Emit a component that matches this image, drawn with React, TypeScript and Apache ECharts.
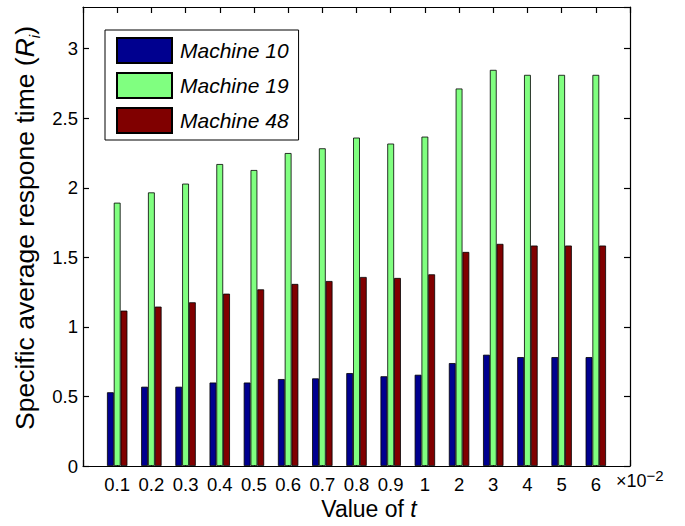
import React, { useEffect, useRef } from "react";
import * as echarts from "echarts";

// Values of t (shown in units of 10^-2 on the axis)
const tLabels = ["0.1", "0.2", "0.3", "0.4", "0.5", "0.6", "0.7", "0.8", "0.9", "1", "2", "3", "4", "5", "6"];

// Specific average response time R_i per machine
const machine10 = [0.53, 0.57, 0.57, 0.6, 0.6, 0.625, 0.63, 0.668, 0.645, 0.656, 0.74, 0.8, 0.783, 0.783, 0.783];
const machine19 = [1.893, 1.967, 2.03, 2.171, 2.128, 2.25, 2.284, 2.361, 2.318, 2.368, 2.714, 2.848, 2.812, 2.812, 2.812];
const machine48 = [1.117, 1.146, 1.177, 1.239, 1.27, 1.309, 1.33, 1.359, 1.352, 1.378, 1.539, 1.597, 1.585, 1.585, 1.585];

const seriesNames = ["Machine 10", "Machine 19", "Machine 48"];
const seriesColors = ["#00008F", "#80FF80", "#800000"];

const yMin = 0;
const yMax = 3.3;
const yStep = 0.5;

const W = 685;
const H = 526;
const GRID = { left: 83, right: 55, top: 7, bottom: 60 };

const FONT = "'Liberation Sans', Arial, Helvetica, sans-serif";

export default function App() {
  const ref = useRef<HTMLDivElement>(null);

  useEffect(() => {
    if (!ref.current) return;
    const chart = echarts.init(ref.current, undefined, { renderer: "svg" });

    // pad the category axis with an empty slot at each end so the box spans 0..16
    const axisCats = ["", ...tLabels, ""];
    const pad = (arr: number[]) => ["-", ...arr, "-"];
    const allValues = [machine10, machine19, machine48];

    const series: any[] = allValues.map((vals, i) => ({
      name: seriesNames[i],
      type: "bar",
      xAxisIndex: 0,
      yAxisIndex: 0,
      data: pad(vals),
      barWidth: 6.8,
      barGap: "0%",
      itemStyle: {
        color: seriesColors[i],
        borderColor: "#000",
        borderWidth: 0.8,
      },
    }));

    // empty series that binds the mirrored top/right axes
    series.push({
      name: "frame",
      type: "line",
      xAxisIndex: 1,
      yAxisIndex: 1,
      data: axisCats.map(() => "-"),
      silent: true,
      showSymbol: false,
      lineStyle: { opacity: 0 },
    });

    const frameLine = { show: true, onZero: false, lineStyle: { color: "#000", width: 1.2 } };
    const innerTick = { show: true, inside: true, length: 6, lineStyle: { color: "#000", width: 1.2 } };

    const plotW = W - GRID.left - GRID.right;

    chart.setOption({
      animation: false,
      backgroundColor: "#fff",
      textStyle: { fontFamily: FONT },
      grid: { ...GRID },
      legend: {
        orient: "vertical",
        left: 105,
        top: 30,
        data: seriesNames,
        icon: "rect",
        itemWidth: 55,
        itemHeight: 25,
        itemGap: 8,
        padding: [7, 10, 6, 11],
        backgroundColor: "#fff",
        borderColor: "#000",
        borderWidth: 1,
        borderRadius: 0,
        textStyle: {
          fontFamily: FONT,
          fontSize: 21,
          fontStyle: "italic",
          color: "#000",
          padding: [0, 0, 0, 3],
        },
      },
      xAxis: [
        {
          type: "category",
          position: "bottom",
          data: axisCats,
          boundaryGap: false,
          axisLine: frameLine,
          axisTick: innerTick,
          axisLabel: { color: "#000", fontSize: 18.5, margin: 9, fontFamily: FONT, interval: 0 },
          splitLine: { show: false },
        },
        {
          type: "category",
          position: "top",
          data: axisCats,
          boundaryGap: false,
          axisLine: frameLine,
          axisTick: innerTick,
          axisLabel: { show: false },
          splitLine: { show: false },
        },
      ],
      yAxis: [
        {
          type: "value",
          position: "left",
          min: yMin,
          max: yMax,
          interval: yStep,
          axisLine: frameLine,
          axisTick: innerTick,
          axisLabel: { color: "#000", fontSize: 18.5, margin: 5, fontFamily: FONT, showMaxLabel: false },
          splitLine: { show: false },
        },
        {
          type: "value",
          position: "right",
          min: yMin,
          max: yMax,
          interval: yStep,
          axisLine: frameLine,
          axisTick: innerTick,
          axisLabel: { show: false },
          splitLine: { show: false },
        },
      ],
      series,
      graphic: [
        {
          // top edge of the plot box
          type: "line",
          z: 100,
          silent: true,
          shape: { x1: GRID.left, y1: GRID.top + 0.5, x2: GRID.left + plotW, y2: GRID.top + 0.5 },
          style: { stroke: "#000", lineWidth: 1.2 },
        },
        {
          type: "text",
          x: 25,
          y: 228,
          rotation: Math.PI / 2,
          style: {
            text: "Specific average respone time ({it|R}{sub|i})",
            fontFamily: FONT,
            fontSize: 26.5,
            fill: "#000",
            align: "center",
            verticalAlign: "middle",
            rich: {
              it: { fontStyle: "italic", fontSize: 26.5, fontFamily: FONT, lineHeight: 34, verticalAlign: "middle" },
              sub: { fontStyle: "italic", fontSize: 15, fontFamily: FONT, lineHeight: 34, verticalAlign: "bottom" },
            },
          },
        },
        {
          type: "text",
          x: 369,
          y: 509,
          style: {
            text: "Value of {it|t}",
            fontFamily: FONT,
            fontSize: 23,
            fill: "#000",
            align: "center",
            verticalAlign: "middle",
            rich: {
              it: { fontStyle: "italic", fontSize: 23, fontFamily: FONT },
            },
          },
        },
        {
          type: "text",
          x: 616,
          y: 481,
          style: {
            text: "×10{sup|−2}",
            fontFamily: FONT,
            fontSize: 18,
            fill: "#000",
            align: "left",
            verticalAlign: "middle",
            rich: {
              sup: { fontSize: 15, fontFamily: FONT, lineHeight: 26, verticalAlign: "top" },
            },
          },
        },
      ],
    });

    return () => chart.dispose();
  }, []);

  return (
    <div
      ref={ref}
      style={{ position: "fixed", left: 0, top: 0, width: W, height: H, background: "#fff" }}
    />
  );
}
